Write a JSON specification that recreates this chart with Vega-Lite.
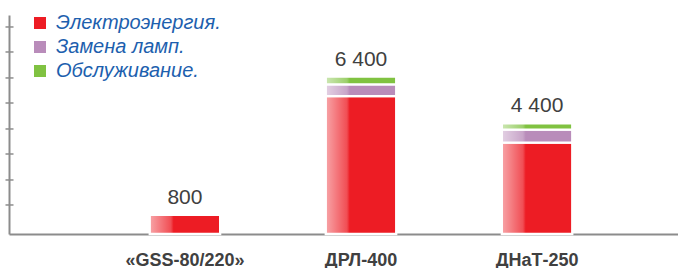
{
  "$schema": "https://vega.github.io/schema/vega-lite/v6.json",
  "width": 669,
  "height": 219,
  "autosize": {"type": "none"},
  "padding": {"left": 9, "top": 15, "right": 0, "bottom": 34},
  "background": "white",
  "config": {
    "view": {"stroke": null},
    "font": "Liberation Sans"
  },
  "datasets": {
    "costs": [
      {"cat": "«GSS-80/220»", "series": "Электроэнергия.", "o": 1, "v": 780},
      {"cat": "ДРЛ-400", "series": "Электроэнергия.", "o": 1, "v": 5600},
      {"cat": "ДРЛ-400", "series": "Замена ламп.", "o": 2, "v": 480},
      {"cat": "ДРЛ-400", "series": "Обслуживание.", "o": 3, "v": 320},
      {"cat": "ДНаТ-250", "series": "Электроэнергия.", "o": 1, "v": 3710},
      {"cat": "ДНаТ-250", "series": "Замена ламп.", "o": 2, "v": 533},
      {"cat": "ДНаТ-250", "series": "Обслуживание.", "o": 3, "v": 257}
    ],
    "totals": [
      {"cat": "«GSS-80/220»", "top": 780, "label": "800"},
      {"cat": "ДРЛ-400", "top": 6400, "label": "6 400"},
      {"cat": "ДНаТ-250", "top": 4500, "label": "4 400"}
    ]
  },
  "encoding": {
    "x": {
      "field": "cat",
      "type": "nominal",
      "sort": ["«GSS-80/220»", "ДРЛ-400", "ДНаТ-250"],
      "scale": {"paddingInner": 0.6, "paddingOuter": 0.7, "align": 0.571},
      "axis": {
        "title": null,
        "domain": true,
        "domainColor": "#8c8c8c",
        "domainWidth": 2,
        "ticks": false,
        "tickSize": 0,
        "labelAngle": 0,
        "labelFont": "Liberation Sans",
        "labelFontWeight": "bold",
        "labelFontSize": 18,
        "labelColor": "#404040",
        "labelBaseline": "alphabetic",
        "labelPadding": 31,
        "labelLimit": 300
      }
    }
  },
  "layer": [
    {
      "data": {"name": "costs"},
      "mark": {"type": "bar", "stroke": "white", "strokeWidth": 2.3},
      "encoding": {
        "y": {
          "field": "v",
          "type": "quantitative",
          "stack": "zero",
          "scale": {"domain": [0, 8900], "nice": false, "zero": true},
          "axis": {
            "title": null,
            "labels": false,
            "domain": true,
            "domainColor": "#8c8c8c",
            "domainWidth": 2,
            "ticks": true,
            "tickSize": 4,
            "tickColor": "#555555",
            "tickWidth": 1,
            "tickRound": false,
            "tickCount": 20,
            "grid": true,
            "gridColor": "#555555",
            "gridWidth": 1,
            "gridDash": [4, 3000],
            "values": [1199, 2215, 3271, 4288, 5344, 6361, 7417, 8433]
          }
        },
        "color": {
          "field": "series",
          "type": "nominal",
          "scale": {
            "domain": ["Электроэнергия.", "Замена ламп.", "Обслуживание."],
            "range": ["#ed1c24", "#b98cba", "#80c241"]
          },
          "legend": {
            "title": null,
            "orient": "none",
            "legendX": 21,
            "legendY": -2,
            "symbolType": "square",
            "symbolSize": 144,
            "symbolStrokeWidth": 0,
            "symbolOpacity": 1,
            "labelFont": "Liberation Sans",
            "labelFontStyle": "italic",
            "labelFontSize": 20,
            "labelColor": "#1d5fae",
            "labelOffset": 6,
            "rowPadding": 4,
            "padding": 0,
            "labelLimit": 400
          }
        },
        "order": {"field": "o", "type": "quantitative", "sort": "ascending"}
      }
    },
    {
      "data": {"name": "costs"},
      "mark": {
        "type": "bar",
        "color": {
          "gradient": "linear",
          "x1": 0, "x2": 1, "y1": 0, "y2": 0,
          "stops": [
            {"offset": 0, "color": "rgba(255,255,255,0.6)"},
            {"offset": 0.3, "color": "rgba(255,255,255,0.22)"},
            {"offset": 0.34, "color": "rgba(255,255,255,0)"},
            {"offset": 1, "color": "rgba(255,255,255,0)"}
          ]
        }
      },
      "encoding": {
        "y": {"field": "v", "type": "quantitative", "stack": "zero"},
        "detail": {"field": "series"},
        "order": {"field": "o", "type": "quantitative", "sort": "ascending"}
      }
    },
    {
      "data": {"name": "totals"},
      "mark": {
        "type": "text",
        "font": "Liberation Sans",
        "fontSize": 21,
        "color": "#404040",
        "baseline": "alphabetic",
        "dy": -11
      },
      "encoding": {
        "y": {"field": "top", "type": "quantitative"},
        "text": {"field": "label"}
      }
    }
  ]
}
